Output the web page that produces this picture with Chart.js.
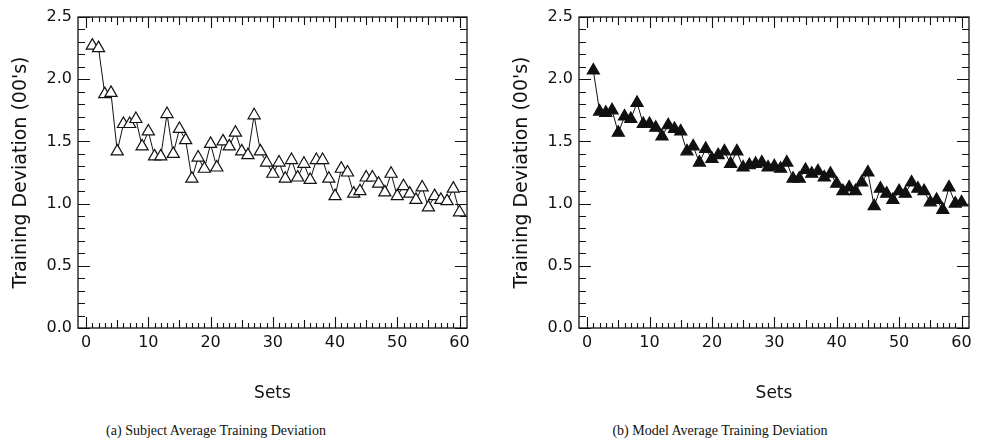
<!DOCTYPE html>
<html>
<head>
<meta charset="utf-8">
<title>Average Training Deviation</title>
<script src="https://cdn.jsdelivr.net/npm/chart.js"></script>
<style>
  html, body { margin: 0; padding: 0; background: #fff; }
  body { width: 983px; height: 441px; position: relative; overflow: hidden; }
  .panel { position: absolute; top: 0; height: 410px; }
  #panel-a { left: 0; width: 490px; }
  #panel-b { left: 501px; width: 482px; }
  .caption {
    position: absolute; top: 423px; font: 14px "Liberation Serif", serif;
    color: #111; white-space: nowrap; transform: translateX(-50%);
  }
</style>
</head>
<body>
<div class="panel" id="panel-a"><canvas id="chartA"></canvas></div>
<div class="panel" id="panel-b"><canvas id="chartB"></canvas></div>
<div class="caption" style="left:216px">(a) Subject Average Training Deviation</div>
<div class="caption" style="left:720px">(b) Model Average Training Deviation</div>
<script>
// sets 1..60
const SETS = [
  1, 2, 3, 4, 5, 6, 7, 8, 9, 10, 11, 12, 13, 14, 15, 16, 17, 18, 19, 20,
  21, 22, 23, 24, 25, 26, 27, 28, 29, 30, 31, 32, 33, 34, 35, 36, 37, 38, 39, 40,
  41, 42, 43, 44, 45, 46, 47, 48, 49, 50, 51, 52, 53, 54, 55, 56, 57, 58, 59, 60
];

// (a) subject average training deviation (00's)
const SUBJECT_DEV = [
  2.27, 2.25, 1.88, 1.89, 1.42, 1.64, 1.64, 1.68, 1.46, 1.58,
  1.38, 1.38, 1.72, 1.40, 1.60, 1.51, 1.20, 1.37, 1.28, 1.48,
  1.29, 1.50, 1.46, 1.57, 1.42, 1.39, 1.71, 1.42, 1.33, 1.24,
  1.33, 1.20, 1.35, 1.21, 1.32, 1.19, 1.35, 1.35, 1.20, 1.06,
  1.28, 1.25, 1.08, 1.10, 1.21, 1.21, 1.16, 1.09, 1.24, 1.06,
  1.14, 1.08, 1.03, 1.13, 0.97, 1.06, 1.03, 1.02, 1.12, 0.93
];

// (b) model average training deviation (00's)
const MODEL_DEV = [
  2.07, 1.74, 1.73, 1.75, 1.57, 1.70, 1.68, 1.81, 1.64, 1.64,
  1.61, 1.54, 1.63, 1.60, 1.58, 1.42, 1.46, 1.33, 1.44, 1.36,
  1.39, 1.42, 1.32, 1.42, 1.29, 1.31, 1.32, 1.33, 1.29, 1.30,
  1.28, 1.33, 1.20, 1.20, 1.27, 1.24, 1.26, 1.21, 1.24, 1.16,
  1.10, 1.13, 1.10, 1.17, 1.25, 0.98, 1.12, 1.08, 1.03, 1.10,
  1.08, 1.17, 1.12, 1.10, 1.01, 1.03, 0.95, 1.13, 1.00, 1.01
];

const X_TICKS = [0, 10, 20, 30, 40, 50, 60];
const Y_TICKS = [0.0, 0.5, 1.0, 1.5, 2.0, 2.5];

const INK = "#111";
const TEXT = "#111";
const SANS = "'DejaVu Sans', sans-serif";

// frame + inward tick marks on all four sides
const frameTicks = {
  id: "frameTicks",
  beforeDatasetsDraw(chart) {
    const { ctx, chartArea: a, scales: { x, y } } = chart;
    ctx.save();
    ctx.strokeStyle = INK;
    ctx.lineWidth = 1.3;
    ctx.strokeRect(a.left, a.top, a.right - a.left, a.bottom - a.top);
    ctx.lineWidth = 1.1;
    ctx.beginPath();
    for (let i = 0; i <= 60; i++) {
      const len = i % 10 === 0 ? 11 : (i % 5 === 0 ? 8 : 5);
      const px = Math.round(x.getPixelForValue(i)) + 0.5;
      ctx.moveTo(px, a.bottom); ctx.lineTo(px, a.bottom - len);
      ctx.moveTo(px, a.top); ctx.lineTo(px, a.top + len);
    }
    for (let j = 0; j <= 25; j++) {
      const len = j % 5 === 0 ? 12 : 7;
      const py = Math.round(y.getPixelForValue(j / 10)) + 0.5;
      ctx.moveTo(a.left, py); ctx.lineTo(a.left + len, py);
      ctx.moveTo(a.right, py); ctx.lineTo(a.right - len, py);
    }
    ctx.stroke();
    ctx.restore();
  }
};

function makeChart(id, values, filled, padRight) {
  const pts = SETS.map((s, i) => ({ x: s, y: values[i] }));
  return new Chart(document.getElementById(id), {
    type: "line",
    data: {
      datasets: [{
        data: pts,
        borderColor: INK,
        borderWidth: 1,
        pointStyle: "triangle",
        pointRadius: 7,
        pointBorderWidth: 1.2,
        pointBorderColor: INK,
        pointBackgroundColor: filled ? INK : "#fff",
        tension: 0
      }]
    },
    options: {
      responsive: true,
      maintainAspectRatio: false,
      animation: false,
      layout: { padding: { left: 0, right: padRight, top: 17, bottom: 0 } },
      plugins: { legend: { display: false }, tooltip: { enabled: false } },
      scales: {
        x: {
          type: "linear",
          min: -1.3,
          max: 61.2,
          grid: { display: false, drawTicks: false },
          border: { display: false },
          afterBuildTicks: (s) => { s.ticks = X_TICKS.map(v => ({ value: v })); },
          afterFit: (s) => { s.height = 82; },
          ticks: {
            color: TEXT, padding: 5,
            font: { family: SANS, size: 16 },
            callback: (v) => String(v)
          },
          title: {
            display: true, text: "Sets", color: TEXT,
            font: { family: SANS, size: 17 },
            padding: { top: 0, bottom: 6 }
          }
        },
        y: {
          type: "linear",
          min: 0,
          max: 2.5,
          grid: { display: false, drawTicks: false },
          border: { display: false },
          afterBuildTicks: (s) => { s.ticks = Y_TICKS.map(v => ({ value: v })); },
          afterFit: (s) => { s.width = 78; },
          ticks: {
            color: TEXT, padding: 6,
            font: { family: SANS, size: 16 },
            callback: (v) => Number(v).toFixed(1)
          },
          title: {
            display: true, text: "Training Deviation (00's)", color: TEXT,
            font: { family: SANS, size: 19 },
            padding: { top: 10, bottom: 0 }
          }
        }
      }
    },
    plugins: [frameTicks]
  });
}

makeChart("chartA", SUBJECT_DEV, false, 23);
makeChart("chartB", MODEL_DEV, true, 14);
</script>
</body>
</html>
